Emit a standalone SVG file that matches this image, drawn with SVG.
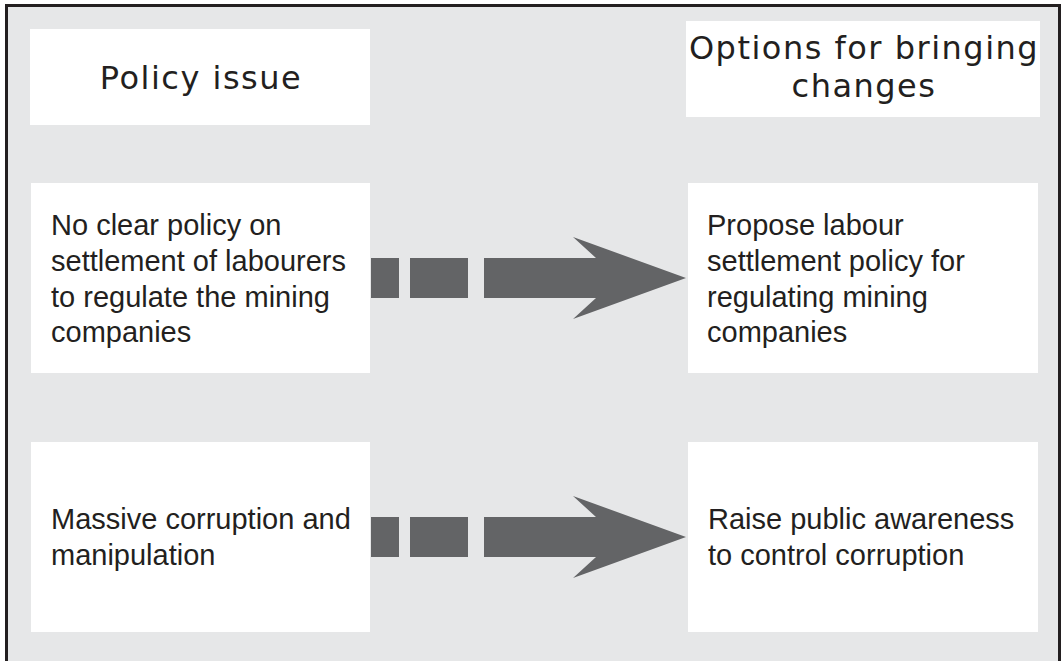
<svg xmlns="http://www.w3.org/2000/svg" width="1062" height="661" viewBox="0 0 1062 661">
<style>
.box{fill:#ffffff}
.hdr{font-family:"DejaVu Sans",Verdana,sans-serif;font-size:32px;fill:#231f20;letter-spacing:1.5px;text-anchor:middle}
.txt{font-family:"Liberation Sans",Arial,sans-serif;font-size:29px;fill:#231f20}
.arr{fill:#636466}
</style>
<rect x="0" y="0" width="1062" height="661" fill="#ffffff"/>
<rect x="6.5" y="5.5" width="1053" height="700" fill="#e6e7e8" stroke="#231f20" stroke-width="3"/>
<g id="header-policy">
<rect class="box" x="30" y="29" width="340" height="96"/>
<text class="hdr" x="201" y="89">Policy issue</text>
</g>
<g id="header-options">
<rect class="box" x="686" y="21" width="354" height="96"/>
<text class="hdr" x="864" y="59">Options for bringing</text>
<text class="hdr" x="864" y="97">changes</text>
</g>
<g id="issue1">
<rect class="box" x="31" y="183" width="339" height="190"/>
<text class="txt" x="51" y="235">No clear policy on</text>
<text class="txt" x="51" y="271">settlement of labourers</text>
<text class="txt" x="51" y="307">to regulate the mining</text>
<text class="txt" x="51" y="342">companies</text>
</g>
<g id="option1">
<rect class="box" x="688" y="183" width="350" height="190"/>
<text class="txt" x="707" y="235">Propose labour</text>
<text class="txt" x="707" y="271">settlement policy for</text>
<text class="txt" x="707" y="307">regulating mining</text>
<text class="txt" x="707" y="342">companies</text>
</g>
<g id="issue2">
<rect class="box" x="31" y="442" width="339" height="190"/>
<text class="txt" x="51" y="529">Massive corruption and</text>
<text class="txt" x="51" y="565">manipulation</text>
</g>
<g id="option2">
<rect class="box" x="688" y="442" width="350" height="190"/>
<text class="txt" x="708" y="529">Raise public awareness</text>
<text class="txt" x="708" y="565">to control corruption</text>
</g>
<g id="connectors">
<g id="arrow1">
<rect class="arr" x="371" y="258" width="28" height="40"/>
<rect class="arr" x="410" y="258" width="58" height="40"/>
<polygon class="arr" points="484,258 596,258 573,237 686,278 573,319 596,298 484,298"/>
</g>
<g id="arrow2">
<rect class="arr" x="371" y="517" width="28" height="40"/>
<rect class="arr" x="410" y="517" width="58" height="40"/>
<polygon class="arr" points="484,517 596,517 573,496 686,537 573,578 596,557 484,557"/>
</g>
</g>
</svg>
